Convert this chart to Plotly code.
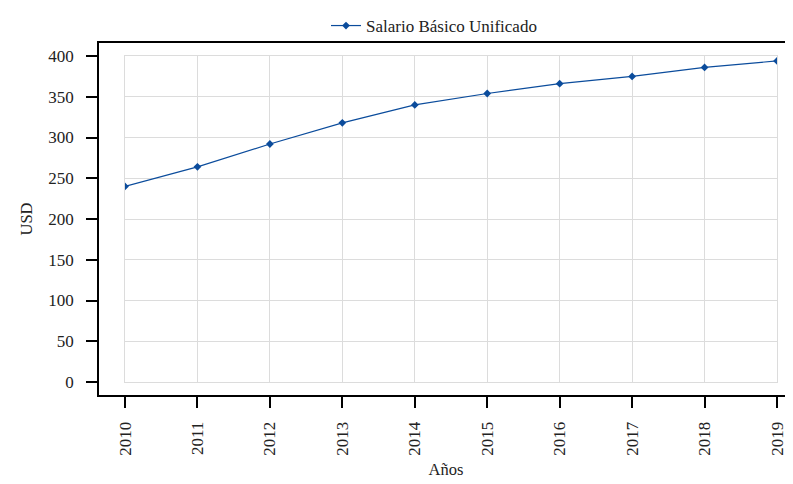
"""Salario Básico Unificado 2010-2019, estilo pgfplots con ejes desplazados."""
import plotly.graph_objects as go

years = [2010, 2011, 2012, 2013, 2014, 2015, 2016, 2017, 2018, 2019]
sbu = [240, 264, 292, 318, 340, 354, 366, 375, 386, 394]
y_ticks = [0, 50, 100, 150, 200, 250, 300, 350, 400]

# la página añade 8px de margen al cuerpo
W, H = 785, 476
L, R, T, B = 91, 0, 35, 89
pw, ph = W - L - R, H - T - B
# recuadro interior (zona de datos) en px dentro del área del gráfico
pad_l, pad_r, pad_t, pad_b = 26, 16, 13, 13

xd = [pad_l / pw, 1 - pad_r / pw]
yd = [pad_b / ph, 1 - pad_t / ph]

x0, x1 = years[0], years[-1]
y0, y1 = 0, 400
sx = (x1 - x0) / (pw - pad_l - pad_r)
sy = (y1 - y0) / (ph - pad_t - pad_b)
xr = [x0 - pad_l * sx, x1 + pad_r * sx]
yr = [y0 - pad_b * sy, y1 + pad_t * sy]

font = "Liberation Serif"
blue = "#0b4c9c"

fig = go.Figure()
# traza vacía para que se dibuje el marco exterior
fig.add_trace(go.Scatter(x=[], y=[], showlegend=False, hoverinfo="skip",
                         xaxis="x", yaxis="y"))
fig.add_trace(go.Scatter(
    name="Salario Básico Unificado", x=years, y=sbu,
    mode="lines+markers", line=dict(color=blue, width=1.2),
    marker=dict(symbol="diamond", size=6, color=blue),
    xaxis="x2", yaxis="y2",
))

fig.update_layout(
    width=W, height=H,
    margin=dict(l=L, r=R, t=T, b=B, autoexpand=False),
    paper_bgcolor="white", plot_bgcolor="white",
    font=dict(family=font, size=17, color="#222"),
    showlegend=True,
    legend=dict(orientation="h", x=(358 - 40) / W, xref="container", xanchor="left",
                y=1, yref="container", yanchor="top",
                font=dict(size=17), bgcolor="rgba(0,0,0,0)"),
    # ejes del marco (desplazados)
    xaxis=dict(domain=[0, 1], range=xr, tickvals=years,
               ticktext=[str(v) for v in years], automargin=False,
               tickangle=-90, ticks="outside", ticklen=11, tickwidth=1.5,
               tickcolor="black", showline=True, linecolor="black", linewidth=1.8,
               mirror=True, showgrid=False, zeroline=False, anchor="y",
               ticklabelstandoff=7,
               title=dict(text="Años", standoff=9, font=dict(size=16.5))),
    yaxis=dict(domain=[0, 1], range=yr, tickvals=y_ticks, ticks="outside", ticklen=11,
               tickwidth=1.5, tickcolor="black", showline=True, linecolor="black",
               linewidth=1.8, showgrid=False, zeroline=False, anchor="x",
               ticklabelstandoff=9,
               automargin=False,
               title=dict(text="USD", standoff=11, font=dict(size=16.5))),
    # ejes interiores con la rejilla
    xaxis2=dict(domain=xd, range=[x0, x1], anchor="y2", tickvals=years,
                showticklabels=False, showgrid=True, gridcolor="#dcdcdc",
                gridwidth=1, zeroline=False, showline=True, linecolor="#dcdcdc",
                linewidth=1, mirror=True, automargin=False),
    yaxis2=dict(domain=yd, range=[y0, y1], anchor="x2", tickvals=y_ticks,
                showticklabels=False, showgrid=True, gridcolor="#dcdcdc",
                gridwidth=1, zeroline=False, showline=True, linecolor="#dcdcdc",
                linewidth=1, mirror=True, automargin=False),
)

fig.write_html("out.html")
